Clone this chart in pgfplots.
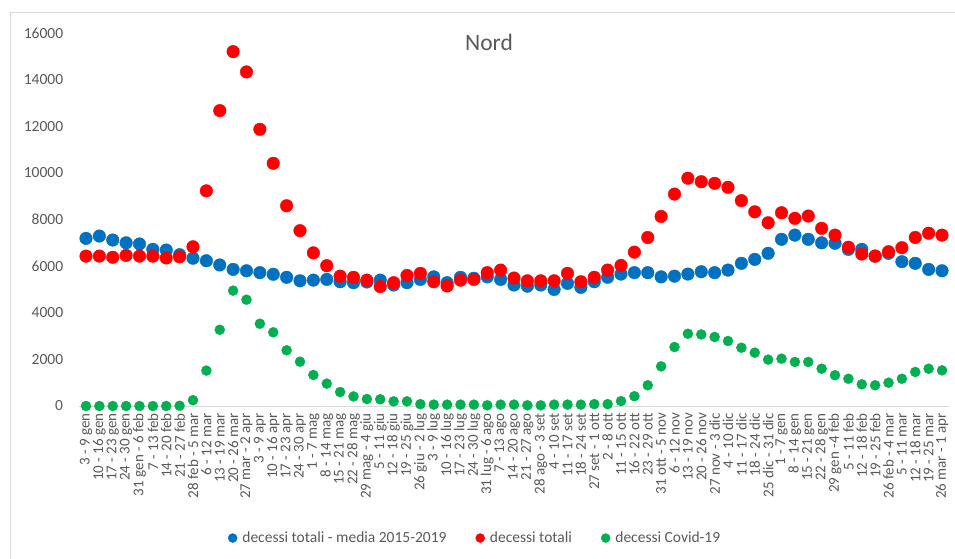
\documentclass[border=0pt]{standalone}
\usepackage{pgfplots}
\pgfplotsset{compat=1.18}
\usepackage{pgfplotstable}
\usepackage{fontspec}
\setmainfont{Carlito}
\definecolor{cblue}{HTML}{0070C0}
\definecolor{cred}{HTML}{FF0000}
\definecolor{cgreen}{HTML}{00B050}
\definecolor{ctext}{HTML}{595959}
\definecolor{cline}{HTML}{D9D9D9}

\pgfplotstableread{
x blue red green
0 7190 6430 0
1 7290 6430 0
2 7120 6380 0
3 7000 6460 0
4 6950 6430 0
5 6720 6430 0
6 6690 6350 0
7 6490 6400 10
8 6340 6830 250
9 6230 9230 1520
10 6050 12670 3270
11 5860 15200 4950
12 5800 14330 4560
13 5720 11870 3530
14 5650 10410 3160
15 5520 8590 2390
16 5370 7520 1900
17 5400 6570 1330
18 5430 6020 960
19 5330 5570 600
20 5290 5520 410
21 5320 5400 300
22 5400 5120 290
23 5190 5290 200
24 5290 5600 200
25 5430 5690 80
26 5540 5330 60
27 5290 5150 60
28 5520 5400 60
29 5480 5430 60
30 5540 5720 30
31 5430 5830 60
32 5190 5490 60
33 5140 5370 30
34 5190 5370 30
35 5000 5370 60
36 5260 5690 60
37 5090 5330 60
38 5330 5520 80
39 5520 5830 80
40 5660 6030 210
41 5720 6600 420
42 5720 7230 890
43 5540 8130 1700
44 5570 9090 2530
45 5660 9770 3100
46 5760 9620 3070
47 5720 9550 2960
48 5830 9380 2790
49 6120 8810 2500
50 6290 8330 2290
51 6550 7860 1990
52 7150 8290 2030
53 7330 8050 1890
54 7150 8150 1890
55 7000 7620 1600
56 6980 7330 1320
57 6720 6810 1170
58 6720 6520 930
59 6430 6430 890
60 6550 6620 1000
61 6190 6790 1170
62 6120 7230 1460
63 5860 7410 1600
64 5800 7330 1530
}\data

\begin{document}
\begin{tikzpicture}[x=1pt,y=1pt]
\useasboundingbox (0,0) rectangle (955,558);
\draw[cline, line width=0.8pt] (10,-10) -- (10,546) -- (965,546);
\begin{axis}[
  at={(79.3pt,152pt)}, anchor=south west,
  scale only axis, width=869.4pt, height=373pt,
  xmin=-0.5, xmax=64.5, ymin=0, ymax=16000,
  clip=false,
  axis x line=bottom, axis y line=left,
  axis line style={-},
  y axis line style={draw=none},
  x axis line style={draw=cline, line width=1pt},
  major tick length=0pt,
  tick style={draw=none},
  scaled y ticks=false,
  ytick={0,2000,4000,6000,8000,10000,12000,14000,16000},
  yticklabels={0,2000,4000,6000,8000,10000,12000,14000,16000},
  yticklabel style={font=\fontsize{15.5}{16}\selectfont, text=ctext, anchor=east, inner sep=0pt, xshift=-16pt},
  xtick={0,...,64},
  xticklabels={{3 - 9 gen},{10 - 16 gen},{17 - 23 gen},{24 - 30 gen},{31 gen - 6 feb},{7 - 13 feb},{14 - 20 feb},{21 - 27 feb},{28 feb - 5 mar},{6 - 12 mar},{13 - 19 mar},{20 - 26 mar},{27 mar - 2 apr},{3 - 9 apr},{10 - 16 apr},{17 - 23 apr},{24 - 30 apr},{1 - 7 mag},{8 - 14 mag},{15 - 21 mag},{22 - 28 mag},{29 mag - 4 giu},{5 - 11 giu},{12 - 18 giu},{19 - 25 giu},{26 giu - 2 lug},{3 - 9 lug},{10 - 16 lug},{17 - 23 lug},{24 - 30 lug},{31 lug - 6 ago},{7 - 13 ago},{14 - 20 ago},{21 - 27 ago},{28 ago - 3 set},{4 - 10 set},{11 - 17 set},{18 - 24 set},{27 set - 1 ott},{2 - 8 ott},{11 - 15 ott},{16 - 22 ott},{23 - 29 ott},{31 ott - 5 nov},{6 - 12 nov},{13 - 19 nov},{20 - 26 nov},{27 nov - 3 dic},{4 - 10 dic},{11 - 17 dic},{18 - 24 dic},{25 dic - 31 dic},{1 - 7 gen},{8 - 14 gen},{15 - 21 gen},{22 - 28 gen},{29 gen -4 feb},{5 - 11 feb},{12 - 18 feb},{19 - 25 feb},{26 feb - 4 mar},{5 - 11 mar},{12 - 18 mar},{19 - 25 mar},{26 mar - 1 apr}},
  xticklabel style={font=\fontsize{15}{15}\selectfont, text=ctext, yshift=-7pt, rotate=90, anchor=east, inner sep=0pt},
  title={Nord},
  title style={font=\fontsize{23.5}{24}\selectfont, text=ctext, at={(axis description cs:0.4713,0.958)}, anchor=center},
  legend columns=3,
  legend style={draw=none, fill=none, at={(axis description cs:0.171,-0.354)}, anchor=west, inner sep=0pt, outer sep=0pt,
    font=\fontsize{15.5}{16}\selectfont, text=ctext,
    /tikz/every odd column/.append style={column sep=4pt},
    /tikz/every even column/.append style={column sep=28pt},
    nodes={inner sep=1pt}},
  legend cell align=left,
  legend image code/.code={\fill[#1] (0pt,0pt) circle (4.5pt);},
]
\addplot[cblue, only marks, mark=*, mark size=6.3pt, mark options={draw=none, fill=cblue}] table[x=x, y=blue] {\data};
\addlegendentry{decessi totali - media 2015-2019}
\addplot[cred, only marks, mark=*, mark size=6.3pt, mark options={draw=none, fill=cred}] table[x=x, y=red] {\data};
\addlegendentry{decessi totali}
\addplot[cgreen, only marks, mark=*, mark size=5pt, mark options={draw=none, fill=cgreen}] table[x=x, y=green] {\data};
\addlegendentry{decessi Covid-19}
\end{axis}
\end{tikzpicture}
\end{document}
